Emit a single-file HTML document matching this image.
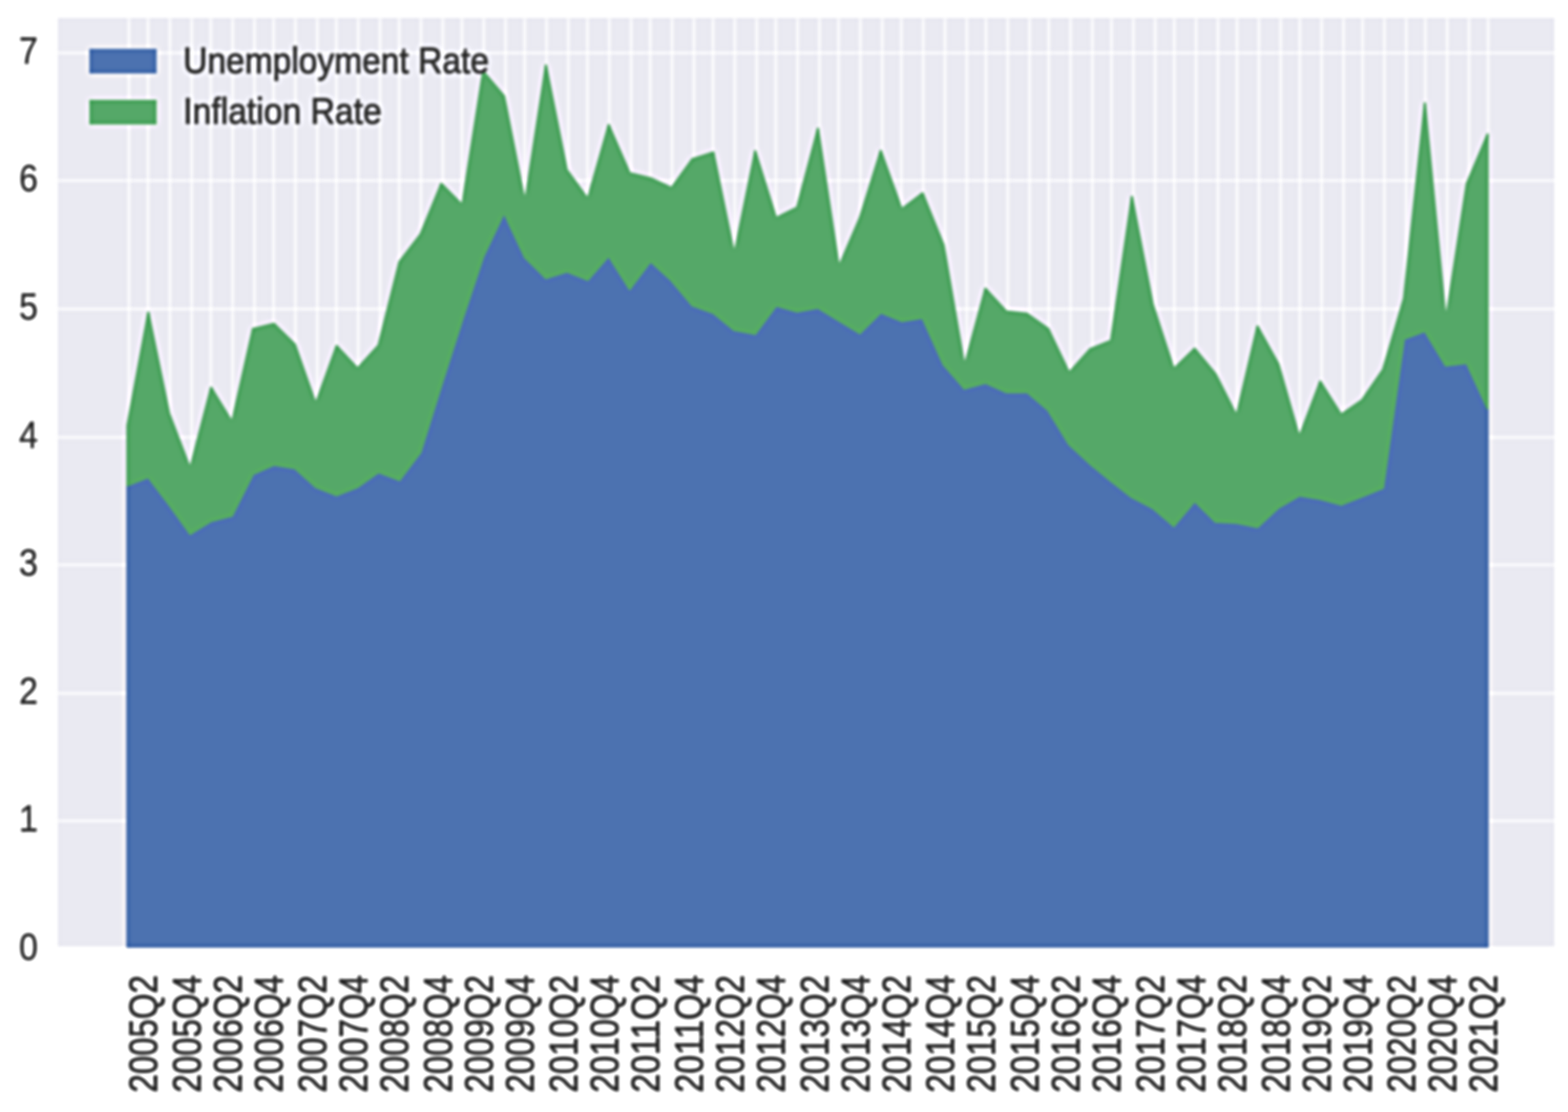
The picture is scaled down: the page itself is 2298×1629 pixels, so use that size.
<!DOCTYPE html>
<html lang="en"><head><meta charset="utf-8"><title>Unemployment Rate and Inflation Rate</title>
<style>html,body{margin:0;padding:0;background:#fff;}body{width:2298px;height:1629px;overflow:hidden;}svg{display:block;}text{font-family:"Liberation Sans",Arial,Helvetica,sans-serif;font-size:55px;fill:#444444;stroke:#444444;stroke-width:1.8px;stroke-linejoin:round;}.xl text{font-size:58px;}.lg text{font-size:54px;stroke-width:1.6px;}.yl text{stroke-width:1.0px;}</style></head><body>
<svg xmlns="http://www.w3.org/2000/svg" width="2298" height="1629" viewBox="0 0 2298 1629">
<defs><filter id="b" filterUnits="userSpaceOnUse" x="-60" y="-60" width="2418" height="1749" color-interpolation-filters="sRGB"><feGaussianBlur in="SourceGraphic" stdDeviation="2.0" result="a"/><feGaussianBlur in="SourceGraphic" stdDeviation="4.5" result="b"/><feComposite in="a" in2="b" operator="arithmetic" k1="0" k2="1.7" k3="-0.7" k4="0"/></filter><clipPath id="c"><rect x="84.7" y="26.3" width="2193.3" height="1360"/></clipPath></defs>
<rect width="2298" height="1629" fill="#fff"/>
<g filter="url(#b)">
<rect x="-60" y="-60" width="2418" height="1749" fill="#fff"/>
<rect x="84.7" y="26.3" width="2193.3" height="1360" fill="#eaeaf2"/>
<g stroke="#fff" stroke-opacity="0.66" stroke-width="4.6" clip-path="url(#c)">
<line x1="188.9" y1="26.3" x2="188.9" y2="1386.3"/>
<line x1="216.9" y1="26.3" x2="216.9" y2="1386.3"/>
<line x1="248.9" y1="26.3" x2="248.9" y2="1386.3"/>
<line x1="280.9" y1="26.3" x2="280.9" y2="1386.3"/>
<line x1="308.9" y1="26.3" x2="308.9" y2="1386.3"/>
<line x1="340.9" y1="26.3" x2="340.9" y2="1386.3"/>
<line x1="372.9" y1="26.3" x2="372.9" y2="1386.3"/>
<line x1="400.9" y1="26.3" x2="400.9" y2="1386.3"/>
<line x1="432.9" y1="26.3" x2="432.9" y2="1386.3"/>
<line x1="464.9" y1="26.3" x2="464.9" y2="1386.3"/>
<line x1="492.9" y1="26.3" x2="492.9" y2="1386.3"/>
<line x1="524.9" y1="26.3" x2="524.9" y2="1386.3"/>
<line x1="556.9" y1="26.3" x2="556.9" y2="1386.3"/>
<line x1="584.9" y1="26.3" x2="584.9" y2="1386.3"/>
<line x1="616.9" y1="26.3" x2="616.9" y2="1386.3"/>
<line x1="648.9" y1="26.3" x2="648.9" y2="1386.3"/>
<line x1="676.9" y1="26.3" x2="676.9" y2="1386.3"/>
<line x1="708.9" y1="26.3" x2="708.9" y2="1386.3"/>
<line x1="740.9" y1="26.3" x2="740.9" y2="1386.3"/>
<line x1="768.9" y1="26.3" x2="768.9" y2="1386.3"/>
<line x1="800.9" y1="26.3" x2="800.9" y2="1386.3"/>
<line x1="832.9" y1="26.3" x2="832.9" y2="1386.3"/>
<line x1="860.9" y1="26.3" x2="860.9" y2="1386.3"/>
<line x1="892.9" y1="26.3" x2="892.9" y2="1386.3"/>
<line x1="924.9" y1="26.3" x2="924.9" y2="1386.3"/>
<line x1="952.9" y1="26.3" x2="952.9" y2="1386.3"/>
<line x1="984.9" y1="26.3" x2="984.9" y2="1386.3"/>
<line x1="1016.9" y1="26.3" x2="1016.9" y2="1386.3"/>
<line x1="1044.9" y1="26.3" x2="1044.9" y2="1386.3"/>
<line x1="1076.9" y1="26.3" x2="1076.9" y2="1386.3"/>
<line x1="1108.9" y1="26.3" x2="1108.9" y2="1386.3"/>
<line x1="1136.9" y1="26.3" x2="1136.9" y2="1386.3"/>
<line x1="1168.9" y1="26.3" x2="1168.9" y2="1386.3"/>
<line x1="1200.9" y1="26.3" x2="1200.9" y2="1386.3"/>
<line x1="1228.9" y1="26.3" x2="1228.9" y2="1386.3"/>
<line x1="1260.9" y1="26.3" x2="1260.9" y2="1386.3"/>
<line x1="1292.9" y1="26.3" x2="1292.9" y2="1386.3"/>
<line x1="1320.9" y1="26.3" x2="1320.9" y2="1386.3"/>
<line x1="1352.9" y1="26.3" x2="1352.9" y2="1386.3"/>
<line x1="1384.9" y1="26.3" x2="1384.9" y2="1386.3"/>
<line x1="1416.9" y1="26.3" x2="1416.9" y2="1386.3"/>
<line x1="1444.9" y1="26.3" x2="1444.9" y2="1386.3"/>
<line x1="1476.9" y1="26.3" x2="1476.9" y2="1386.3"/>
<line x1="1508.9" y1="26.3" x2="1508.9" y2="1386.3"/>
<line x1="1536.9" y1="26.3" x2="1536.9" y2="1386.3"/>
<line x1="1568.9" y1="26.3" x2="1568.9" y2="1386.3"/>
<line x1="1600.9" y1="26.3" x2="1600.9" y2="1386.3"/>
<line x1="1628.9" y1="26.3" x2="1628.9" y2="1386.3"/>
<line x1="1660.9" y1="26.3" x2="1660.9" y2="1386.3"/>
<line x1="1692.9" y1="26.3" x2="1692.9" y2="1386.3"/>
<line x1="1720.9" y1="26.3" x2="1720.9" y2="1386.3"/>
<line x1="1752.9" y1="26.3" x2="1752.9" y2="1386.3"/>
<line x1="1784.9" y1="26.3" x2="1784.9" y2="1386.3"/>
<line x1="1812.9" y1="26.3" x2="1812.9" y2="1386.3"/>
<line x1="1844.9" y1="26.3" x2="1844.9" y2="1386.3"/>
<line x1="1876.9" y1="26.3" x2="1876.9" y2="1386.3"/>
<line x1="1904.9" y1="26.3" x2="1904.9" y2="1386.3"/>
<line x1="1936.9" y1="26.3" x2="1936.9" y2="1386.3"/>
<line x1="1968.9" y1="26.3" x2="1968.9" y2="1386.3"/>
<line x1="1996.9" y1="26.3" x2="1996.9" y2="1386.3"/>
<line x1="2028.9" y1="26.3" x2="2028.9" y2="1386.3"/>
<line x1="2060.9" y1="26.3" x2="2060.9" y2="1386.3"/>
<line x1="2088.9" y1="26.3" x2="2088.9" y2="1386.3"/>
<line x1="2120.9" y1="26.3" x2="2120.9" y2="1386.3"/>
<line x1="2152.9" y1="26.3" x2="2152.9" y2="1386.3"/>
<line x1="2180.9" y1="26.3" x2="2180.9" y2="1386.3"/>
<line x1="84.7" y1="77.5" x2="2278" y2="77.5"/>
<line x1="84.7" y1="264.5" x2="2278" y2="264.5"/>
<line x1="84.7" y1="452.6" x2="2278" y2="452.6"/>
<line x1="84.7" y1="640.6" x2="2278" y2="640.6"/>
<line x1="84.7" y1="827.5" x2="2278" y2="827.5"/>
<line x1="84.7" y1="1015.6" x2="2278" y2="1015.6"/>
<line x1="84.7" y1="1202.5" x2="2278" y2="1202.5"/>
</g>
<path d="M186.7,1386.8 L186.7,710.9 L217.37,698.92 L248.04,739.4 L278.71,782.04 L309.38,763.4 L340.05,755.4 L370.72,694.65 L401.39,681.04 L432.06,685.9 L462.73,713.4 L493.4,725.55 L524.07,713.4 L554.74,691.73 L585.41,703.33 L616.08,662.9 L646.75,564.4 L677.42,468.4 L708.09,376.4 L738.76,311.5 L769.43,377.15 L800.1,407.35 L830.77,397.88 L861.44,409.9 L892.11,374.83 L922.78,423.47 L953.45,382.74 L984.12,410.9 L1014.79,447.4 L1045.46,458.4 L1076.13,483.4 L1106.8,489.16 L1137.47,447.68 L1168.14,456.52 L1198.81,450.86 L1229.48,469.65 L1260.15,488.21 L1290.82,457.76 L1321.49,470.39 L1352.16,465.78 L1382.83,533.9 L1413.5,569.24 L1444.17,560.84 L1474.84,574.65 L1505.51,574.65 L1536.18,600.9 L1566.85,650.9 L1597.52,679.4 L1628.19,704.4 L1658.86,728.4 L1689.53,744.4 L1720.2,770.65 L1750.87,734.21 L1781.54,764.4 L1812.21,765.9 L1842.88,772.26 L1873.55,743.9 L1904.22,726.01 L1934.89,730.9 L1965.56,739.29 L1996.23,727.15 L2026.9,714.65 L2057.57,496.4 L2088.24,485.02 L2118.91,535.35 L2149.58,531.95 L2180.25,598.4 L2180.25,1386.8 Z" fill="#4c72b0" stroke="#4c72b0" stroke-width="3.2" stroke-linejoin="round"/>
<path d="M186.7,623.6 L217.37,457.8 L248.04,606 L278.71,685.99 L309.38,567.93 L340.05,617.82 L370.72,481.8 L401.39,474.18 L432.06,504.3 L462.73,591.29 L493.4,506.75 L524.07,539.51 L554.74,505.7 L585.41,383.5 L616.08,343.5 L646.75,269.23 L677.42,300.13 L708.09,104.5 L738.76,140.8 L769.43,295.85 L800.1,95.74 L830.77,249 L861.44,291.09 L892.11,183.08 L922.78,253.5 L953.45,261 L984.12,275.09 L1014.79,233 L1045.46,223.37 L1076.13,371.99 L1106.8,221.49 L1137.47,319.24 L1168.14,303.95 L1198.81,188.47 L1229.48,390.61 L1260.15,319.2 L1290.82,221.03 L1321.49,306.19 L1352.16,283.14 L1382.83,358.5 L1413.5,536.01 L1444.17,422.9 L1474.84,456.2 L1505.51,459.7 L1536.18,481.5 L1566.85,545.72 L1597.52,511.5 L1628.19,499 L1658.86,288.24 L1689.53,446 L1720.2,540.32 L1750.87,510.74 L1781.54,548 L1812.21,608.8 L1842.88,478.02 L1873.55,533.2 L1904.22,639.84 L1934.89,558.81 L1965.56,607.26 L1996.23,586 L2026.9,541.45 L2057.57,437.2 L2088.24,151.44 L2118.91,468.8 L2149.58,269.2 L2180.25,197 L2180.25,598.4 L2149.58,531.95 L2118.91,535.35 L2088.24,485.02 L2057.57,496.4 L2026.9,714.65 L1996.23,727.15 L1965.56,739.29 L1934.89,730.9 L1904.22,726.01 L1873.55,743.9 L1842.88,772.26 L1812.21,765.9 L1781.54,764.4 L1750.87,734.21 L1720.2,770.65 L1689.53,744.4 L1658.86,728.4 L1628.19,704.4 L1597.52,679.4 L1566.85,650.9 L1536.18,600.9 L1505.51,574.65 L1474.84,574.65 L1444.17,560.84 L1413.5,569.24 L1382.83,533.9 L1352.16,465.78 L1321.49,470.39 L1290.82,457.76 L1260.15,488.21 L1229.48,469.65 L1198.81,450.86 L1168.14,456.52 L1137.47,447.68 L1106.8,489.16 L1076.13,483.4 L1045.46,458.4 L1014.79,447.4 L984.12,410.9 L953.45,382.74 L922.78,423.47 L892.11,374.83 L861.44,409.9 L830.77,397.88 L800.1,407.35 L769.43,377.15 L738.76,311.5 L708.09,376.4 L677.42,468.4 L646.75,564.4 L616.08,662.9 L585.41,703.33 L554.74,691.73 L524.07,713.4 L493.4,725.55 L462.73,713.4 L432.06,685.9 L401.39,681.04 L370.72,694.65 L340.05,755.4 L309.38,763.4 L278.71,782.04 L248.04,739.4 L217.37,698.92 L186.7,710.9 Z" fill="#55a868" stroke="#55a868" stroke-width="3.2" stroke-linejoin="round"/>
<rect x="130.2" y="70.8" width="100" height="37.6" fill="#4c72b0" stroke="#fff" stroke-width="1.2"/>
<rect x="130.2" y="145.5" width="100" height="37.6" fill="#55a868" stroke="#fff" stroke-width="1.2"/>
<g class="lg"><text x="268.5" y="107" textLength="448" lengthAdjust="spacingAndGlyphs">Unemployment Rate</text>
<text x="268.5" y="181.3" textLength="291" lengthAdjust="spacingAndGlyphs">Inflation Rate</text></g>
<g class="yl">
<text x="55.5" y="1405.8" text-anchor="end" textLength="27.5" lengthAdjust="spacingAndGlyphs">0</text>
<text x="55.5" y="1218.3" text-anchor="end" textLength="27.5" lengthAdjust="spacingAndGlyphs">1</text>
<text x="55.5" y="1031.4" text-anchor="end" textLength="27.5" lengthAdjust="spacingAndGlyphs">2</text>
<text x="55.5" y="843.3" text-anchor="end" textLength="27.5" lengthAdjust="spacingAndGlyphs">3</text>
<text x="55.5" y="656.4" text-anchor="end" textLength="27.5" lengthAdjust="spacingAndGlyphs">4</text>
<text x="55.5" y="468.4" text-anchor="end" textLength="27.5" lengthAdjust="spacingAndGlyphs">5</text>
<text x="55.5" y="280.3" text-anchor="end" textLength="27.5" lengthAdjust="spacingAndGlyphs">6</text>
<text x="55.5" y="93.3" text-anchor="end" textLength="27.5" lengthAdjust="spacingAndGlyphs">7</text>
</g>
<g class="xl">
<text transform="translate(230.1,1600.5) rotate(-90)" textLength="172" lengthAdjust="spacingAndGlyphs">2005Q2</text>
<text transform="translate(294.1,1600.5) rotate(-90)" textLength="172" lengthAdjust="spacingAndGlyphs">2005Q4</text>
<text transform="translate(354.1,1600.5) rotate(-90)" textLength="172" lengthAdjust="spacingAndGlyphs">2006Q2</text>
<text transform="translate(414.1,1600.5) rotate(-90)" textLength="172" lengthAdjust="spacingAndGlyphs">2006Q4</text>
<text transform="translate(478.1,1600.5) rotate(-90)" textLength="172" lengthAdjust="spacingAndGlyphs">2007Q2</text>
<text transform="translate(538.1,1600.5) rotate(-90)" textLength="172" lengthAdjust="spacingAndGlyphs">2007Q4</text>
<text transform="translate(598.1,1600.5) rotate(-90)" textLength="172" lengthAdjust="spacingAndGlyphs">2008Q2</text>
<text transform="translate(662.1,1600.5) rotate(-90)" textLength="172" lengthAdjust="spacingAndGlyphs">2008Q4</text>
<text transform="translate(722.1,1600.5) rotate(-90)" textLength="172" lengthAdjust="spacingAndGlyphs">2009Q2</text>
<text transform="translate(782.1,1600.5) rotate(-90)" textLength="172" lengthAdjust="spacingAndGlyphs">2009Q4</text>
<text transform="translate(846.1,1600.5) rotate(-90)" textLength="172" lengthAdjust="spacingAndGlyphs">2010Q2</text>
<text transform="translate(906.1,1600.5) rotate(-90)" textLength="172" lengthAdjust="spacingAndGlyphs">2010Q4</text>
<text transform="translate(966.1,1600.5) rotate(-90)" textLength="172" lengthAdjust="spacingAndGlyphs">2011Q2</text>
<text transform="translate(1030.1,1600.5) rotate(-90)" textLength="172" lengthAdjust="spacingAndGlyphs">2011Q4</text>
<text transform="translate(1090.1,1600.5) rotate(-90)" textLength="172" lengthAdjust="spacingAndGlyphs">2012Q2</text>
<text transform="translate(1150.1,1600.5) rotate(-90)" textLength="172" lengthAdjust="spacingAndGlyphs">2012Q4</text>
<text transform="translate(1214.1,1600.5) rotate(-90)" textLength="172" lengthAdjust="spacingAndGlyphs">2013Q2</text>
<text transform="translate(1274.1,1600.5) rotate(-90)" textLength="172" lengthAdjust="spacingAndGlyphs">2013Q4</text>
<text transform="translate(1334.1,1600.5) rotate(-90)" textLength="172" lengthAdjust="spacingAndGlyphs">2014Q2</text>
<text transform="translate(1398.1,1600.5) rotate(-90)" textLength="172" lengthAdjust="spacingAndGlyphs">2014Q4</text>
<text transform="translate(1458.1,1600.5) rotate(-90)" textLength="172" lengthAdjust="spacingAndGlyphs">2015Q2</text>
<text transform="translate(1522.1,1600.5) rotate(-90)" textLength="172" lengthAdjust="spacingAndGlyphs">2015Q4</text>
<text transform="translate(1582.1,1600.5) rotate(-90)" textLength="172" lengthAdjust="spacingAndGlyphs">2016Q2</text>
<text transform="translate(1642.1,1600.5) rotate(-90)" textLength="172" lengthAdjust="spacingAndGlyphs">2016Q4</text>
<text transform="translate(1706.1,1600.5) rotate(-90)" textLength="172" lengthAdjust="spacingAndGlyphs">2017Q2</text>
<text transform="translate(1766.1,1600.5) rotate(-90)" textLength="172" lengthAdjust="spacingAndGlyphs">2017Q4</text>
<text transform="translate(1826.1,1600.5) rotate(-90)" textLength="172" lengthAdjust="spacingAndGlyphs">2018Q2</text>
<text transform="translate(1890.1,1600.5) rotate(-90)" textLength="172" lengthAdjust="spacingAndGlyphs">2018Q4</text>
<text transform="translate(1950.1,1600.5) rotate(-90)" textLength="172" lengthAdjust="spacingAndGlyphs">2019Q2</text>
<text transform="translate(2010.1,1600.5) rotate(-90)" textLength="172" lengthAdjust="spacingAndGlyphs">2019Q4</text>
<text transform="translate(2074.1,1600.5) rotate(-90)" textLength="172" lengthAdjust="spacingAndGlyphs">2020Q2</text>
<text transform="translate(2134.1,1600.5) rotate(-90)" textLength="172" lengthAdjust="spacingAndGlyphs">2020Q4</text>
<text transform="translate(2194.1,1600.5) rotate(-90)" textLength="172" lengthAdjust="spacingAndGlyphs">2021Q2</text>
</g>
</g>
</svg></body></html>
